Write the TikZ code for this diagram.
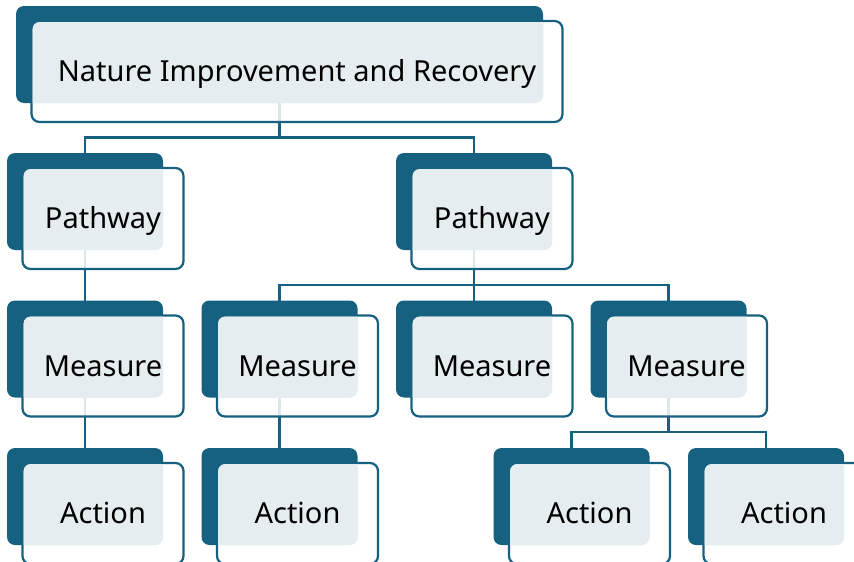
\documentclass[tikz,border=0pt]{standalone}
\usepackage{fontspec}
\setmainfont{Noto Sans}
\usetikzlibrary{calc,backgrounds}
\definecolor{dk}{RGB}{22,97,128}
\definecolor{lt}{RGB}{230,237,241}
\tikzset{
  darkbox/.style={fill=dk, rounded corners=8pt, inner sep=0pt, outer sep=0pt, anchor=north west, minimum height=97pt},
  outbox/.style={draw=dk, line width=2.2pt, fill=white, fill opacity=.85, rounded corners=8pt, inner sep=0pt, outer sep=0pt, anchor=north west, minimum height=101pt},
  lbl/.style={anchor=base, inner sep=0pt, font=\fontsize{29}{33}\selectfont, text=black},
  conn/.style={draw=dk, line width=2.2pt}
}
\newcommand\elembox[6]{%
  \node[darkbox, minimum width=#4pt] (#1) at (#2,#3) {};
  \node[outbox, minimum width=#5pt] (#1-b) at ($(#1.north west)+(15.5,15)$) {};
  \begin{scope}
    \clip[rounded corners=8pt] (#1.south west) rectangle (#1.north east);
    \fill[lt, rounded corners=7pt] ($(#1-b.south west)+(1.1,-1.1)$) rectangle ($(#1-b.north east)+(-1.1,1.1)$);
  \end{scope}
  \node[lbl] (#1-t) at ($(#1-b.center)+(0,10)$) {#6};
}
\newcommand\linkto[2]{%
  \draw[conn] (#1.south) |- ($(#1.south |- #1-b.south)!.5!(#2.north)$) -| (#2.north);
}
\begin{document}
\begin{tikzpicture}[x=1pt,y=-1pt]
\useasboundingbox (0,0) rectangle (854,562);
\elembox{top}{16}{6}{527}{531}{Nature Improvement and Recovery}
\elembox{p1}{7}{153}{156}{161}{Pathway}
\elembox{p2}{396}{153}{156}{161}{Pathway}
\elembox{m1}{7}{300.5}{156}{161}{Measure}
\elembox{m2}{201.5}{300.5}{156}{161}{Measure}
\elembox{m3}{396}{300.5}{156}{161}{Measure}
\elembox{m4}{590.5}{300.5}{156}{161}{Measure}
\elembox{a1}{7}{448}{156}{161}{Action}
\elembox{a2}{201.5}{448}{156}{161}{Action}
\elembox{a3}{493.5}{448}{156}{161}{Action}
\elembox{a4}{688}{448}{156}{161}{Action}
\begin{scope}[on background layer]
  \linkto{top}{p1}
  \linkto{top}{p2}
  \linkto{p1}{m1}
  \linkto{p2}{m2}
  \linkto{p2}{m3}
  \linkto{p2}{m4}
  \linkto{m1}{a1}
  \linkto{m2}{a2}
  \linkto{m4}{a3}
  \linkto{m4}{a4}
\end{scope}
\end{tikzpicture}
\end{document}
